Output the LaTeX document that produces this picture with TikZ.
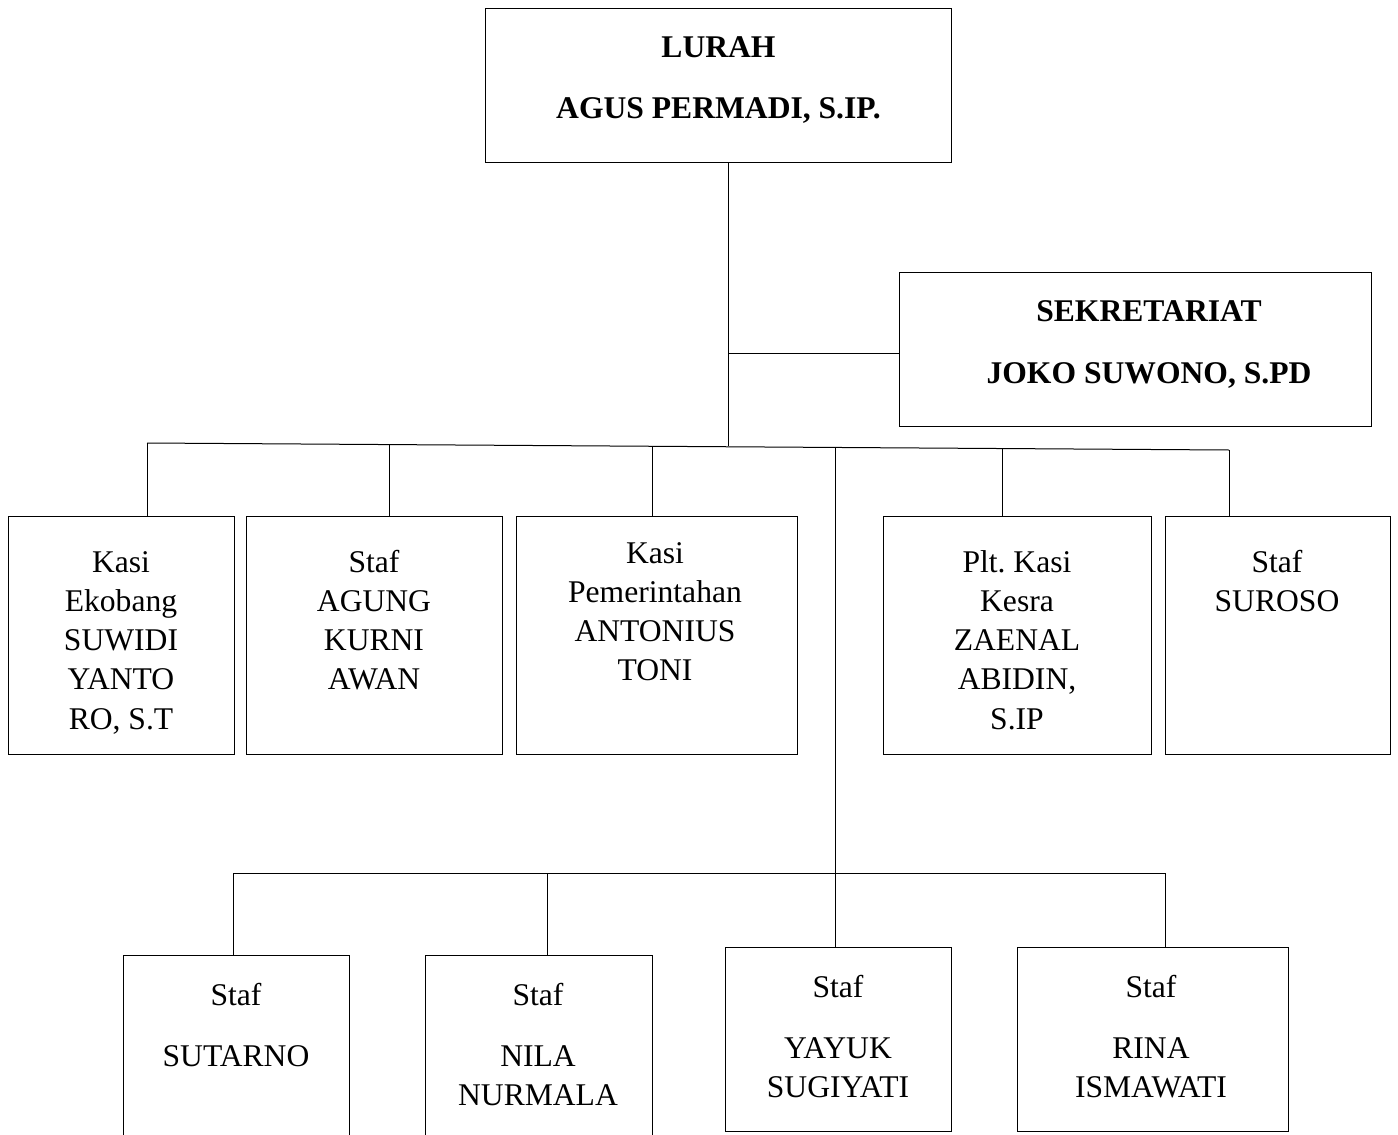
\documentclass[tikz,border=0pt]{standalone}
\usepackage{fontspec}
\setmainfont{Liberation Serif}
\frenchspacing
\newcommand\mlines[1]{\begin{tabular}[t]{@{}c@{}}#1\end{tabular}}
\begin{document}
\begin{tikzpicture}[x=1pt,y=-1pt,
  box/.style={draw, line width=1pt, inner sep=0pt, rectangle},
  txt/.style={anchor=base, inner sep=0pt, font=\fontsize{31.6}{39.3}\selectfont\frenchspacing},
  btxt/.style={anchor=base, inner sep=0pt, font=\fontsize{31.6}{39.3}\selectfont\bfseries\frenchspacing},
  conn/.style={line width=1pt}]
\clip (0,0) rectangle (1398,1135);
\fill[white] (0,0) rectangle (1398,1135);
% top
\node[box, minimum width=466pt, minimum height=154pt] (lurah) at (718,85) {};
\node[btxt] (lurahT) at (718.5,57) {\mlines{LURAH\\[21.7pt] AGUS PERMADI, S.IP.}};
\node[box, minimum width=472pt, minimum height=154pt] (sek) at (1135,349) {};
\node[btxt] (sekT) at (1149,321) {\mlines{SEKRETARIAT\\[22.7pt] JOKO SUWONO, S.PD}};
% level 1
\node[box, minimum width=226pt, minimum height=238pt] (b1) at (121,635) {};
\node[txt] (b1T) at (121,572) {\mlines{Kasi\\Ekobang\\SUWIDI\\YANTO\\RO, S.T}};
\node[box, minimum width=256pt, minimum height=238pt] (b2) at (374,635) {};
\node[txt] (b2T) at (374,572) {\mlines{Staf\\AGUNG\\KURNI\\AWAN}};
\node[box, minimum width=281pt, minimum height=238pt] (b3) at (656.5,635) {};
\node[txt] (b3T) at (655,563) {\mlines{Kasi\\Pemerintahan\\ANTONIUS\\TONI}};
\node[box, minimum width=268pt, minimum height=238pt] (b4) at (1017,635) {};
\node[txt] (b4T) at (1017,572) {\mlines{Plt. Kasi\\Kesra\\ZAENAL\\ABIDIN,\\S.IP}};
\node[box, minimum width=225pt, minimum height=238pt] (b5) at (1277.5,635) {};
\node[txt] (b5T) at (1277,572) {\mlines{Staf\\SUROSO}};
% level 2
\node[box, minimum width=226pt, minimum height=195pt] (c1) at (236,1052.5) {};
\node[txt] (c1T) at (236,1005) {\mlines{Staf\\[21.7pt]SUTARNO}};
\node[box, minimum width=227pt, minimum height=195pt] (c2) at (538.5,1052.5) {};
\node[txt] (c2T) at (538,1005) {\mlines{Staf\\[21.7pt]NILA\\NURMALA}};
\node[box, minimum width=226pt, minimum height=184pt] (c3) at (838,1039) {};
\node[txt] (c3T) at (838,997) {\mlines{Staf\\[21.7pt]YAYUK\\SUGIYATI}};
\node[box, minimum width=271pt, minimum height=184pt] (c4) at (1152.5,1039) {};
\node[txt] (c4T) at (1151,997) {\mlines{Staf\\[21.7pt]RINA\\ISMAWATI}};
% connectors
\coordinate (j1) at (728,353);
\coordinate (j0) at (728,446);
\draw[conn] (lurah.south -| j0) -- (j0);
\draw[conn] (j1) -- (j1 -| sek.west);
\coordinate (hl) at (147,443);
\coordinate (hr) at (1229,450);
\coordinate (h2) at (389,444.6);
\coordinate (h3) at (652,446.3);
\coordinate (h4) at (835,447.5);
\coordinate (h5) at (1002,448.5);
\draw[conn] (hl) -- (hr);
\draw[conn] (hl) -- (hl |- b1.north);
\draw[conn] (h2) -- (h2 |- b2.north);
\draw[conn] (h3) -- (h3 |- b3.north);
\draw[conn] (h5) -- (h5 |- b4.north);
\draw[conn] (hr) -- (hr |- b5.north);
\draw[conn] (h4) -- (h4 |- c3.north);
\coordinate (g1) at (233,873);
\coordinate (g2) at (547,873);
\coordinate (g4) at (1165,873);
\draw[conn] (g1) -- (g4);
\draw[conn] (g1) -- (g1 |- c1.north);
\draw[conn] (g2) -- (g2 |- c2.north);
\draw[conn] (g4) -- (g4 |- c4.north);
\end{tikzpicture}
\end{document}
